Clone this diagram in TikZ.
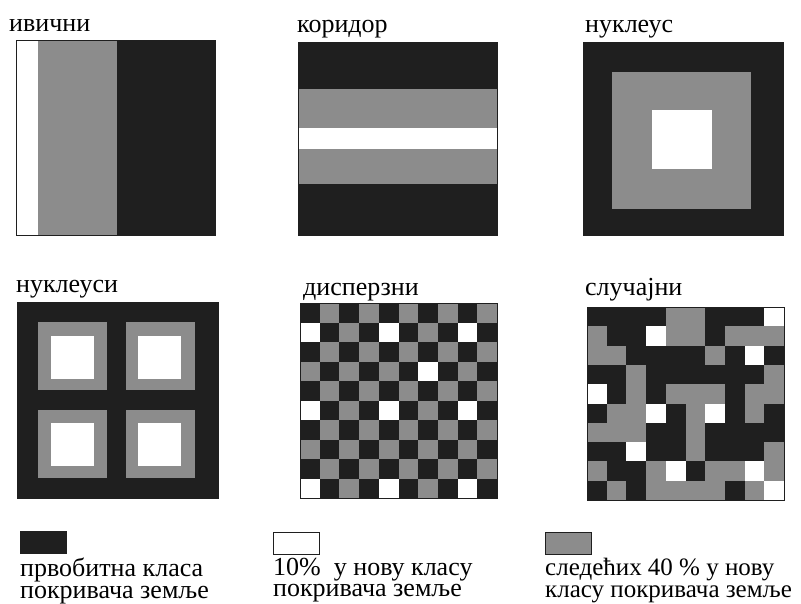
\documentclass[tikz,border=0pt]{standalone}
\usepackage{fontspec}
\setmainfont{Liberation Serif}
\usetikzlibrary{positioning}

\definecolor{landblack}{gray}{0.12}
\definecolor{landgray}{gray}{0.55}

\begin{document}
\begin{tikzpicture}[x=1pt, y=-1pt,
    every node/.style={font=\fontsize{26}{21.5}\selectfont, inner sep=0pt},
    title/.style={anchor=base west},
    frame/.style={draw=landblack, line width=0.8pt},
    legbox/.style={draw=landblack, line width=1pt, minimum width=46pt, minimum height=22pt, anchor=north west},
    legtext/.style={align=left, anchor=north west}]
  \useasboundingbox[fill=white] (0,0) rectangle (801,604);

  % ivichni: white strip at the edge, gray beside it
  \node[title] (t-edge) at (9,32) {ивични};
  \fill[landblack] (16,40) rectangle (215,235);
  \fill[white] (16,40) rectangle (38,235);
  \fill[landgray] (38,40) rectangle (117,235);
  \draw[frame] (16,40) rectangle (215,235);

  % koridor: horizontal bands
  \node[title] (t-corr) at (297,33) {коридор};
  \fill[landblack] (298,42) rectangle (497,235);
  \fill[landgray] (298,89) rectangle (497,184);
  \fill[white] (298,128) rectangle (497,149);
  \draw[frame] (298,42) rectangle (497,235);

  % nukleus: one nucleus in the middle
  \node[title] (t-nuc) at (585,33) {нуклеус};
  \fill[landblack] (583,42) rectangle (783,235);
  \fill[landgray] (612,72) rectangle (751,209);
  \fill[white] (652,110) rectangle (712,169);
  \draw[frame] (583,42) rectangle (783,235);

  % nukleusi: four nuclei
  \node[title] (t-nucs) at (16,293) {нуклеуси};
  \fill[landblack] (17,302) rectangle (218,498);
  \foreach \gx/\wx in {38/51, 126/138}
    \foreach \gy/\wy in {322/336, 410/423} {
      \fill[landgray] (\gx,\gy) rectangle ++(69,68);
      \fill[white] (\wx,\wy) rectangle ++(43,43);
    }
  \draw[frame] (17,302) rectangle (218,498);

  % disperzni: checkerboard, some gray cells turned white
  \node[title] (t-disp) at (303,295) {дисперзни};
  \fill[landblack] (300,303) rectangle (497,498);
  \foreach \r in {0,...,9} {
    \pgfmathtruncatemacro\sh{mod(\r+1,2)}
    \foreach \c in {0,...,4}
      \fill[landgray] ({300+(2*\c+\sh)*19.7},{303+\r*19.5}) rectangle ++(19.7,19.5);
  }
  \foreach \r/\c in {1/0,1/4,1/8,3/6,5/0,5/4,5/8,9/0,9/4,9/8}
    \fill[white] ({300+\c*19.7},{303+\r*19.5}) rectangle ++(19.7,19.5);
  \draw[frame] (300,303) rectangle (497,498);

  % slucajni: random cells
  \node[title] (t-rand) at (585,295) {случајни};
  \fill[landblack] (587,307) rectangle (784,500);
  \foreach \r/\c in {0/4,0/5, 1/0,1/4,1/5,1/7,1/8,1/9, 2/0,2/1,2/6, 3/2,3/9,
      4/2,4/4,4/5,4/6,4/8,4/9, 5/1,5/2,5/5,5/8, 6/0,6/1,6/2,6/5, 7/5,7/9,
      8/0,8/3,8/6,8/7,8/9, 9/1,9/3,9/4,9/5,9/6,9/8}
    \fill[landgray] ({587+\c*19.7},{307+\r*19.3}) rectangle ++(19.7,19.3);
  \foreach \r/\c in {0/9,1/3,2/8,4/0,5/3,5/6,7/2,8/4,8/8,9/9}
    \fill[white] ({587+\c*19.7},{307+\r*19.3}) rectangle ++(19.7,19.3);
  \draw[frame] (587,307) rectangle (784,500);

  % legend
  \node[legbox, fill=landblack] (leg-black) at (20,531) {};
  \node[legtext, below=4pt of leg-black.south west, anchor=north west] (txt-black)
    {првобитна класа\\покривача земље};
  \node[legbox, fill=white] (leg-white) at (273,532) {};
  \node[legtext, below=3pt of leg-white.south west, anchor=north west] (txt-white)
    {10\%\ \ у нову класу\\покривача земље};
  \node[legbox, fill=landgray] (leg-gray) at (545,532) {};
  \node[legtext, below=3pt of leg-gray.south west, anchor=north west,
      font=\fontsize{25}{21.5}\selectfont] (txt-gray)
    {следећих 40 \% у нову\\класу покривача земље};
\end{tikzpicture}
\end{document}
